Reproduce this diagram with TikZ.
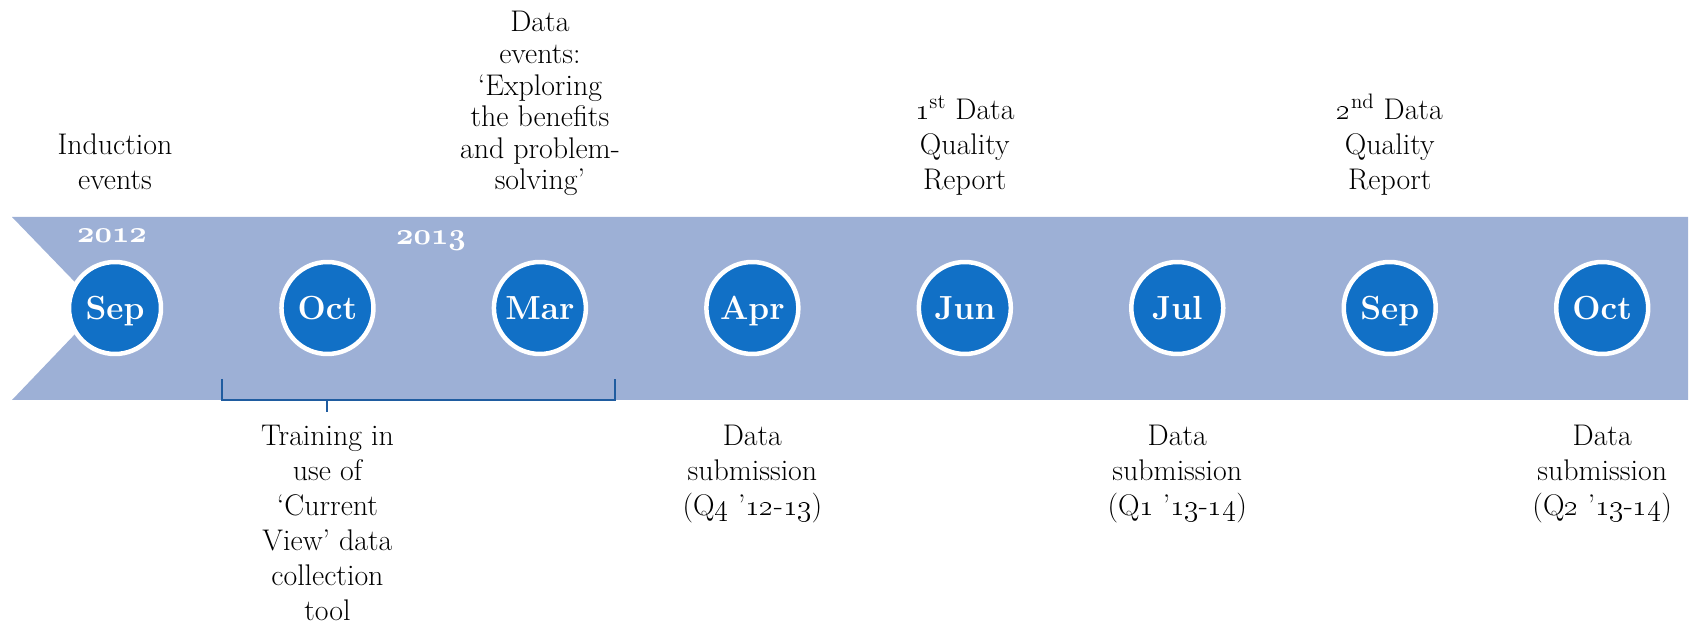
\documentclass[tikz,border=0pt]{standalone}
\usepackage{tikz}
\usetikzlibrary{positioning, calc}
\definecolor{cBandFill}{RGB}{157, 176, 214}
\definecolor{cMonthFill}{RGB}{17, 112, 198}
\definecolor{cBracketDraw}{RGB}{31, 92, 160}
% bold old-style digits for the years
\newcommand{\yearNums}[1]{{\usefont{OML}{cmm}{b}{it}#1}}
\tikzset{
    % month circles on the band
    monthDot/.style={
        circle, draw=white, line width=0.09cm, fill=cMonthFill,
        minimum size=1.84cm, inner sep=0pt, on grid,
        text=white, font=\fontsize{19}{22}\selectfont\bfseries,
        text height=13pt, text depth=0pt
    },
    % text above / below the band
    noteText/.style={font=\fontsize{17}{20}\selectfont, align=center, inner sep=0pt},
    % year labels on the band
    yearText/.style={font=\fontsize{19}{22}\selectfont, text=white, inner sep=0pt, anchor=base},
    bracket/.style={draw=cBracketDraw, line width=0.04cm}
}

\begin{document}
\begin{tikzpicture}[x=0.02cm, y=-0.02cm]
	\useasboundingbox (0,0) rectangle (1694,624);

	% ==========================================
	% band
	% ==========================================
	\coordinate (bandNW) at (12,217);
	\coordinate (bandSE) at (1688,400);
	\fill [cBandFill] (bandNW) -- (bandNW -| bandSE) -- (bandSE)
	-- (bandSE -| bandNW) -- (100,308) -- cycle;

	% ==========================================
	% months
	% ==========================================
	\node [monthDot] (sep12) at (115,308) {Sep};
	\node [monthDot, right=4.25cm of sep12] (oct12) {Oct};
	\node [monthDot, right=4.25cm of oct12] (mar13) {Mar};
	\node [monthDot, right=4.25cm of mar13] (apr13) {Apr};
	\node [monthDot, right=4.25cm of apr13] (jun13) {Jun};
	\node [monthDot, right=4.25cm of jun13] (jul13) {Jul};
	\node [monthDot, right=4.25cm of jul13] (sep13) {Sep};
	\node [monthDot, right=4.25cm of sep13] (oct13) {Oct};

	% --- years ---
	\node [yearText] (yr12) at (112,243) {\yearNums{2012}};
	\node [yearText] (yr13) at (431,245) {\yearNums{2013}};

	% ==========================================
	% notes above
	% ==========================================
	\node [noteText, above=1.185cm of sep12] (noteInduct) {
		Induction\\events\strut
	};
	\node [noteText, font=\fontsize{17}{18}\selectfont, above=1.2cm of mar13] (noteEvents) {
		Data\\events:\\‘Exploring\\the benefits\\and problem-\\solving’\strut
	};
	\node [noteText, above=1.185cm of jun13] (noteDqr1) {
		\oldstylenums{1}\textsuperscript{st} Data\\Quality\\Report\strut
	};
	\node [noteText, above=1.185cm of sep13] (noteDqr2) {
		\oldstylenums{2}\textsuperscript{nd} Data\\Quality\\Report\strut
	};

	% ==========================================
	% notes below
	% ==========================================
	\node [noteText, below=1.364cm of oct12] (noteTrain) {
		Training in\\use of\\‘Current\\View’ data\\collection\\tool
	};
	\node [noteText, below=1.364cm of apr13] (noteQ4) {
		Data\\submission\\(Q\oldstylenums{4} ’\oldstylenums{12}-\oldstylenums{13})
	};
	\node [noteText, below=1.364cm of jul13] (noteQ1) {
		Data\\submission\\(Q\oldstylenums{1} ’\oldstylenums{13}-\oldstylenums{14})
	};
	\node [noteText, below=1.364cm of oct13] (noteQ2) {
		Data\\submission\\(Q\oldstylenums{2} ’\oldstylenums{13}-\oldstylenums{14})
	};

	% --- bracket Oct to Mar ---
	\coordinate (brL) at (222,379);
	\coordinate (brR) at (615,379);
	\draw [bracket] (brL) -- (brL |- bandSE) -- (brR |- bandSE) -- (brR);
	\draw [bracket] (noteTrain.north |- bandSE) -- ($(noteTrain.north)+(0,-12)$);

\end{tikzpicture}
\end{document}
